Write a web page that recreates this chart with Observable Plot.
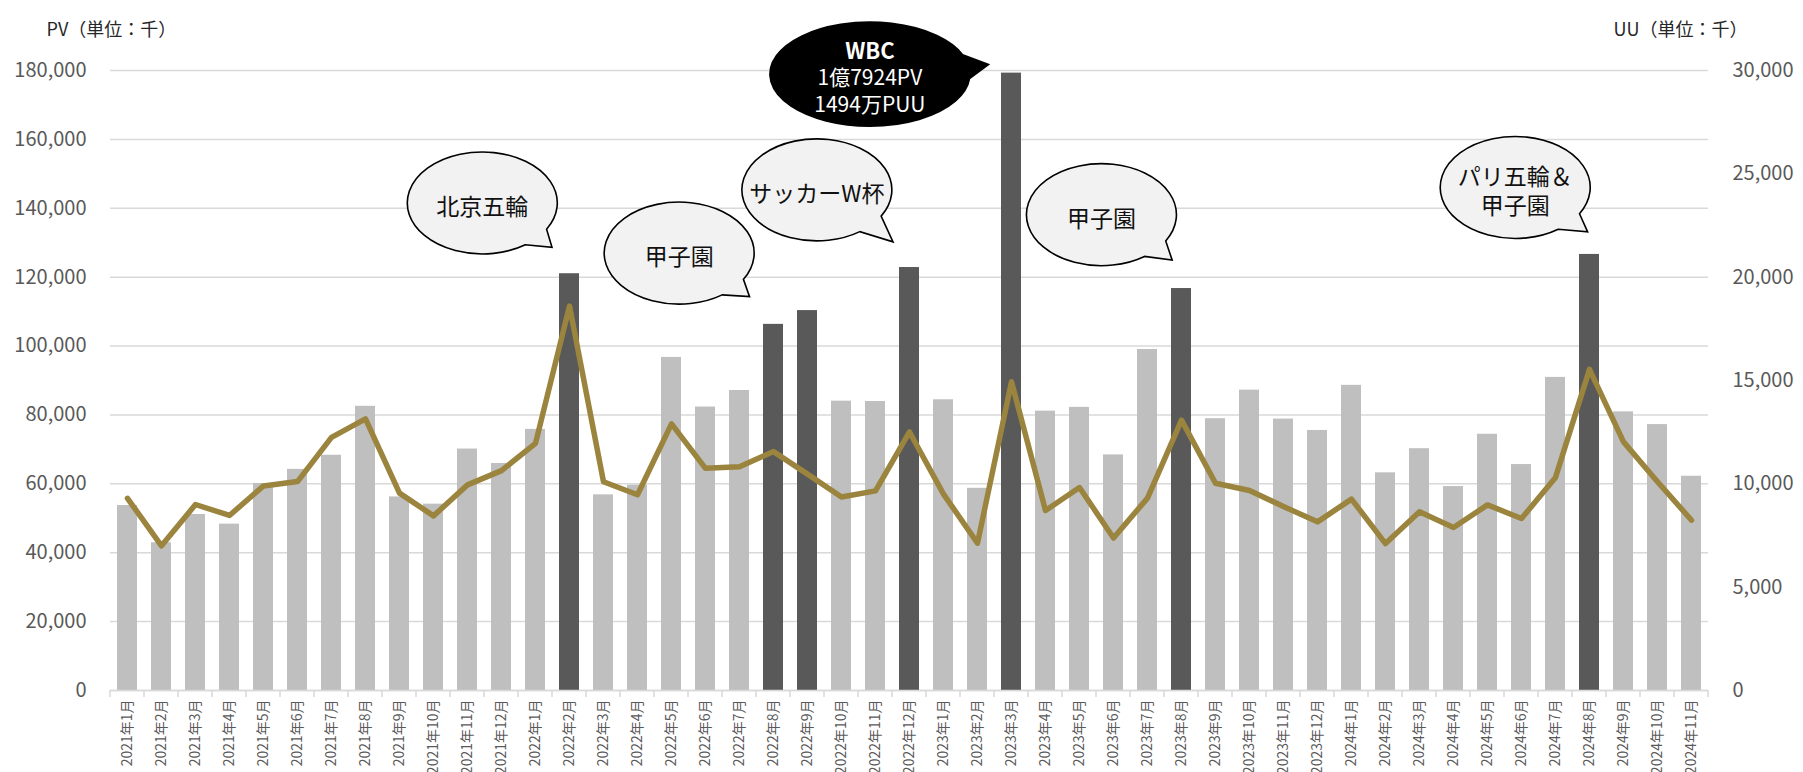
<!DOCTYPE html>
<html><head><meta charset="utf-8">
<script src="https://cdn.jsdelivr.net/npm/d3@7"></script>
<script src="https://cdn.jsdelivr.net/npm/@observablehq/plot@0.6"></script>
<style>html,body{margin:0;padding:0;background:#fff;overflow:hidden}svg{display:block}</style>
</head><body><div id="chart"></div>
<script>
// ---- data (PV and UU in thousands) ----
const months = [
  "2021年1月","2021年2月","2021年3月","2021年4月","2021年5月","2021年6月","2021年7月","2021年8月","2021年9月","2021年10月","2021年11月","2021年12月",
  "2022年1月","2022年2月","2022年3月","2022年4月","2022年5月","2022年6月","2022年7月","2022年8月","2022年9月","2022年10月","2022年11月","2022年12月",
  "2023年1月","2023年2月","2023年3月","2023年4月","2023年5月","2023年6月","2023年7月","2023年8月","2023年9月","2023年10月","2023年11月","2023年12月",
  "2024年1月","2024年2月","2024年3月","2024年4月","2024年5月","2024年6月","2024年7月","2024年8月","2024年9月","2024年10月","2024年11月"
];
const pv = [
  53700, 42900, 51100, 48300, 60100, 64200, 68300, 82500, 56200, 54100, 70100, 65900,
  75800, 121000, 56800, 59600, 96700, 82300, 87100, 106300, 110300, 84000, 83900, 122800,
  84400, 58700, 179240, 81100, 82200, 68400, 99000, 116700, 78900, 87200, 78800, 75500,
  88600, 63200, 70200, 59200, 74400, 65600, 90900, 126600, 80900, 77200, 62200
];
const uu = [
  9300, 7000, 9000, 8470, 9900, 10110, 12250, 13140, 9550, 8450, 9950, 10640,
  11960, 18600, 10100, 9470, 12900, 10750, 10830, 11560, 10470, 9360, 9660, 12510,
  9500, 7130, 14940, 8710, 9820, 7380, 9310, 13080, 10030, 9680, 8900, 8160,
  9260, 7110, 8650, 7890, 8980, 8320, 10310, 15540, 12030, 10100, 8240
];
const highlightMonths = ["2022年2月","2022年8月","2022年9月","2022年12月","2023年3月","2023年8月","2024年8月"];
const pvTicks = [0, 20000, 40000, 60000, 80000, 100000, 120000, 140000, 160000, 180000];
const uuTicks = [0, 5000, 10000, 15000, 20000, 25000, 30000];
const pvTitle = "PV（単位：千）";
const uuTitle = "UU（単位：千）";
// callouts: centre / tail tip given as month index and PV value
const calloutText = [["北京五輪"], ["甲子園"], ["サッカーW杯"], ["甲子園"], ["パリ五輪＆", "甲子園"]];
const calloutCenter = [[10.45, 141400], [16.24, 126850], [20.29, 145200], [28.66, 138000], [40.83, 145900]];
const calloutTip = [[12.5, 128500], [18.31, 114200], [22.53, 130100], [30.74, 124800], [42.96, 133000]];
const wbcText = ["WBC", "1億7924PV", "1494万PUU"];
const wbcCenter = [21.85, 178800];
const wbcTip = [25.34, 181600];

// ---- build ----
const ratio = pvTicks[pvTicks.length - 1] / uuTicks[uuTicks.length - 1];
const data = months.map((m, i) => ({month: m, pv: pv[i], uu: uu[i], hi: highlightMonths.includes(m)}));
const font = "'Noto Sans CJK JP', 'Noto Sans', sans-serif";
const W = 1803, H = 772;

const chart = Plot.plot({
  width: W, height: H,
  marginLeft: 110, marginRight: 95, marginTop: 70, marginBottom: 82,
  style: {fontFamily: font, background: "#fff", overflow: "visible"},
  x: {domain: months, paddingInner: 0.41, paddingOuter: 0.205, label: null},
  y: {domain: [0, pvTicks[pvTicks.length - 1]], label: null},
  marks: [
    Plot.gridY(pvTicks, {stroke: "#d9d9d9", strokeOpacity: 1, strokeWidth: 1.5}),
    Plot.axisY(pvTicks, {anchor: "left", tickSize: 0, tickPadding: 24, tickFormat: d3.format(","), fontSize: 20, color: "#595959", label: null}),
    Plot.axisY(uuTicks.map(v => v * ratio), {anchor: "right", tickSize: 0, tickPadding: 24, tickFormat: d => d3.format(",")(d / ratio), fontSize: 20, color: "#595959", label: null}),
    Plot.barY(data.filter(d => !d.hi), {x: "month", y: "pv", fill: "#bfbfbf"}),
    Plot.barY(data.filter(d => d.hi), {x: "month", y: "pv", fill: "#595959"}),
    Plot.ruleY([0], {stroke: "#d9d9d9", strokeWidth: 1.5}),
    Plot.axisX({tickRotate: -90, tickSize: 0, tickPadding: 9, fontSize: 14, color: "#595959", label: null}),
    Plot.lineY(data, {x: "month", y: d => d.uu * ratio, stroke: "#9a843e", strokeWidth: 5.5, strokeLinejoin: "round", strokeLinecap: "round"}),
    Plot.text([pvTitle], {frameAnchor: "top-left", dx: -64, dy: -47, textAnchor: "start", fontSize: 18, fill: "#262626"}),
    Plot.text([uuTitle], {frameAnchor: "top-right", dx: 39, dy: -47, textAnchor: "end", fontSize: 18, fill: "#262626"})
  ]
});
document.getElementById("chart").appendChild(chart);

// ---- post: category tick marks and callouts, positioned through Plot's scales ----
const xs = chart.scale("x"), ys = chart.scale("y");
const step = xs.step, bw = xs.bandwidth;
const x0 = xs.apply(months[0]);
const yZero = ys.apply(0);
const svg = d3.select(chart);
const tickG = svg.append("g").attr("stroke", "#d9d9d9").attr("stroke-width", 1.5);
d3.range(months.length + 1).forEach(i => {
  const bx = x0 - (step - bw) / 2 + i * step;
  tickG.append("line").attr("x1", bx).attr("x2", bx).attr("y1", yZero).attr("y2", yZero + 7);
});
const px = idx => x0 + bw / 2 + idx * step;
const py = v => ys.apply(v);

function callout(lines, c, t, opts) {
  const cx = px(c[0]), cy = py(c[1]), tx = px(t[0]), ty = py(t[1]);
  const {rx, ry, a1, a2, fill, textFill, fontSize, lineH, boldFirst} = opts;
  const p = a => [cx + rx * Math.cos(a * Math.PI / 180), cy + ry * Math.sin(a * Math.PI / 180)];
  const [x1, y1] = p(a1), [x2, y2] = p(a2);
  const g = svg.append("g");
  g.append("path")
    .attr("d", `M${x1},${y1}A${rx},${ry} 0 1 0 ${x2},${y2}L${tx},${ty}Z`)
    .attr("fill", fill).attr("stroke", "#000").attr("stroke-width", 1.6).attr("stroke-linejoin", "miter");
  const n = lines.length;
  lines.forEach((s, i) => {
    g.append("text")
      .attr("x", cx).attr("y", cy + 2 + (i - (n - 1) / 2) * lineH)
      .attr("text-anchor", "middle").attr("dominant-baseline", "central")
      .attr("font-family", font).attr("font-size", (boldFirst && i === 0) ? fontSize + 1 : fontSize)
      .attr("font-weight", (boldFirst && i === 0) ? "bold" : "normal")
      .attr("fill", textFill).text(s);
  });
}
calloutText.forEach((lines, i) => callout(lines, calloutCenter[i], calloutTip[i],
  {rx: 75, ry: 51, a1: 31, a2: 55, fill: "#f2f2f2", textFill: "#111", fontSize: 23, lineH: 29}));
callout(wbcText, wbcCenter, wbcTip,
  {rx: 100, ry: 52, a1: -22, a2: 5, fill: "#000", textFill: "#fff", fontSize: 21, lineH: 27, boldFirst: true});
</script></body></html>
